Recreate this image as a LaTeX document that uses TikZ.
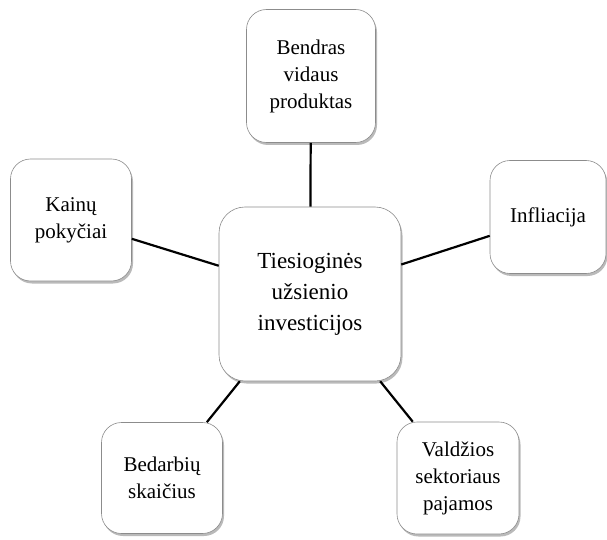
\documentclass[tikz,border=0pt]{standalone}
\usepackage{fontspec}
\setmainfont{Liberation Serif}
\usetikzlibrary{shadows}

\tikzset{
    veiksnys/.style={draw=black!45, line width=0.6pt, fill=white, rounded corners=20pt,
        align=center, inner sep=2pt, font=\fontsize{21}{27}\selectfont,
        drop shadow={shadow xshift=1.5pt, shadow yshift=-2.5pt, fill=black!45, opacity=0.6}},
    ryssys/.style={line width=2.2pt, black}
}

\begin{document}
\begin{tikzpicture}[x=1pt, y=1pt]
    \useasboundingbox (0,0) rectangle (607,-540);

    % Centrinis mazgas
    \node[veiksnys, minimum width=182pt, minimum height=174pt, rounded corners=26pt,
          font=\fontsize{23}{31}\selectfont] (tui) at (310,-294)
        {Tiesioginės\\užsienio\\investicijos};

    % Veiksniai aplink
    \node[veiksnys, minimum width=129pt, minimum height=133pt] (bvp) at (311,-76)
        {Bendras\\vidaus\\produktas};
    \node[veiksnys, minimum width=121pt, minimum height=122pt] (kainos) at (71,-220)
        {Kainų\\pokyčiai};
    \node[veiksnys, minimum width=116pt, minimum height=113pt] (infl) at (548,-217)
        {Infliacija};
    \node[veiksnys, minimum width=121pt, minimum height=111pt] (bedarb) at (162,-478)
        {Bedarbių\\skaičius};
    \node[veiksnys, minimum width=122pt, minimum height=112pt] (valdz) at (458,-478)
        {Valdžios\\sektoriaus\\pajamos};

    % Jungtys
    \draw[ryssys] (bvp) -- (tui);
    \draw[ryssys] (kainos) -- (tui);
    \draw[ryssys] (infl) -- (tui);
    \draw[ryssys] (bedarb) -- (tui);
    \draw[ryssys] (valdz) -- (tui);
\end{tikzpicture}
\end{document}
